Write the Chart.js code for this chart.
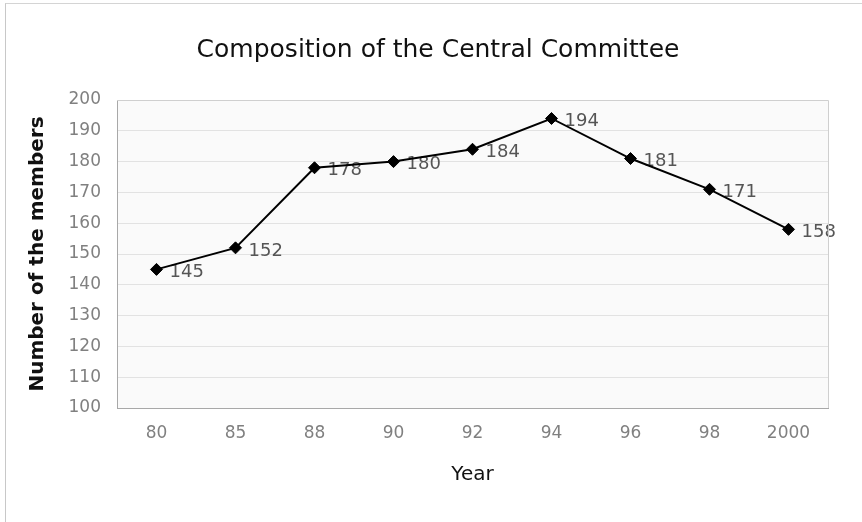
<!DOCTYPE html>
<html>
<head>
<meta charset="utf-8">
<script src="https://cdn.jsdelivr.net/npm/chart.js@4.4.1/dist/chart.umd.min.js"></script>
<style>
  html, body { margin: 0; padding: 0; background: #ffffff; }
  #wrap { position: relative; width: 862px; height: 522px; }
  #frame { position: absolute; left: 5px; top: 3px; right: 0; bottom: 0;
           border-left: 1px solid #c8c8c8; border-top: 1px solid #d4d4d4; pointer-events: none; }
  canvas { position: absolute; left: 0; top: 0; }
</style>
</head>
<body>
<div id="wrap">
  <canvas id="chart" width="862" height="522"></canvas>
  <div id="frame"></div>
</div>
<script>
// Central Committee membership by year
const years = ['80', '85', '88', '90', '92', '94', '96', '98', '2000'];
const members = [145, 152, 178, 180, 184, 194, 181, 171, 158];
const yMin = 100;
const yMax = 200;
const yStep = 10;
const chartTitle = 'Composition of the Central Committee';

const FONT = "'DejaVu Sans', 'Liberation Sans', Arial, sans-serif";

// Light plot-area fill with a thin frame
const plotBackground = {
  id: 'plotBackground',
  beforeDraw(chart) {
    const { ctx, chartArea: a } = chart;
    ctx.save();
    ctx.fillStyle = '#fafafa';
    ctx.fillRect(a.left, a.top, a.right - a.left, a.bottom - a.top);
    ctx.restore();
  },
  afterDraw(chart) {
    const { ctx, chartArea: a } = chart;
    ctx.save();
    ctx.strokeStyle = '#cfcfcf';
    ctx.lineWidth = 1;
    ctx.beginPath();
    ctx.moveTo(a.left, a.top + 0.5);
    ctx.lineTo(a.right + 0.5, a.top + 0.5);
    ctx.lineTo(a.right + 0.5, a.bottom);
    ctx.stroke();
    ctx.restore();
  }
};

// Heading centred over the whole page width
const pageTitle = {
  id: 'pageTitle',
  afterDraw(chart) {
    const { ctx } = chart;
    ctx.save();
    ctx.font = '25px ' + FONT;
    ctx.fillStyle = '#111111';
    ctx.textAlign = 'center';
    ctx.textBaseline = 'middle';
    ctx.fillText(chartTitle, 438, 50);
    ctx.restore();
  }
};

// Value labels placed to the right of each point
const valueLabels = {
  id: 'valueLabels',
  beforeDatasetsDraw(chart) {
    const { ctx } = chart;
    const meta = chart.getDatasetMeta(0);
    const data = chart.data.datasets[0].data;
    ctx.save();
    ctx.font = '18px ' + FONT;
    ctx.fillStyle = '#555555';
    ctx.textAlign = 'left';
    ctx.textBaseline = 'middle';
    meta.data.forEach((pt, i) => {
      ctx.fillText(String(data[i]), pt.x + 13, pt.y + 3);
    });
    ctx.restore();
  }
};

new Chart(document.getElementById('chart'), {
  type: 'line',
  data: {
    labels: years,
    datasets: [{
      data: members,
      borderColor: '#000000',
      borderWidth: 2,
      backgroundColor: '#000000',
      pointStyle: 'rectRot',
      pointRadius: 6,
      pointBorderWidth: 1,
      pointBorderColor: '#000000',
      pointBackgroundColor: '#000000',
      tension: 0,
      fill: false
    }]
  },
  plugins: [plotBackground, valueLabels, pageTitle],
  options: {
    responsive: false,
    animation: false,
    devicePixelRatio: 1,
    layout: { padding: { left: 0, right: 34, top: 100, bottom: 0 } },
    plugins: {
      legend: { display: false },
      tooltip: { enabled: false },
      title: { display: false }
    },
    scales: {
      x: {
        type: 'category',
        offset: true,
        grid: { display: false, drawTicks: false },
        border: { display: true, color: '#a8a8a8', width: 1 },
        ticks: {
          color: '#808080',
          font: { family: FONT, size: 17 },
          padding: 15,
          maxRotation: 0
        },
        title: {
          display: true,
          text: 'Year',
          color: '#111111',
          font: { family: FONT, size: 20 },
          padding: { top: 0, bottom: 35 }
        },
        afterFit(scale) { scale.height = 114; }
      },
      y: {
        min: yMin,
        max: yMax,
        grid: { color: '#e2e2e2', lineWidth: 1, drawTicks: false },
        border: { display: true, color: '#a8a8a8', width: 1 },
        ticks: {
          stepSize: yStep,
          color: '#808080',
          font: { family: FONT, size: 17 },
          padding: 16
        },
        title: {
          display: true,
          text: 'Number of the members',
          color: '#111111',
          font: { family: FONT, size: 20, weight: 'bold' },
          padding: { top: 26, bottom: 0 }
        },
        afterFit(scale) { scale.width = 117; }
      }
    }
  }
});
</script>
</body>
</html>
